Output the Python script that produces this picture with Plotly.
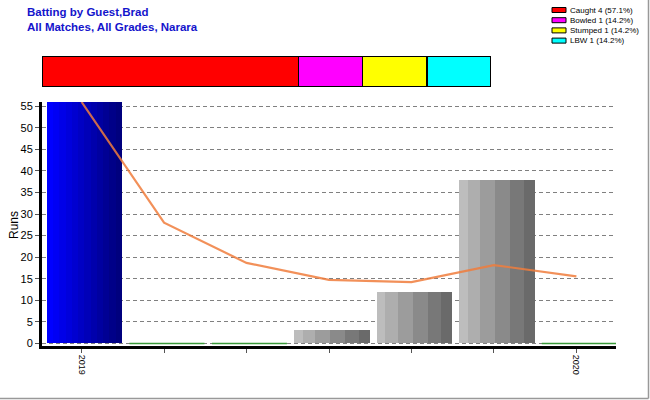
import plotly.graph_objects as go

# ---- data ----
categories = ["2019", "", "", "", "", "", "2020"]
runs = [56, 0, 0, 3, 12, 38, 0]
bar_style = ["blue", "none", "none", "gray", "gray", "gray", "none"]
average = [56, 28, 18.67, 14.75, 14.2, 18.17, 15.57]

dismissals = ["Caught", "Bowled", "Stumped", "LBW"]
dismissal_counts = [4, 1, 1, 1]
dismissal_pct = ["57.1%", "14.2%", "14.2%", "14.2%"]
dismissal_colors = ["#FF0000", "#FF00FF", "#FFFF00", "#00FFFF"]

title_lines = ["Batting by Guest,Brad", "All Matches, All Grades, Narara"]
y_title = "Runs"

# ---- layout constants ----
W, H = 650, 400
ML, MR, MT, MB = 42, 34, 50, 54
PW = W - ML - MR
PH = H - MT - MB
def px_x(p):
    return (p - ML) / PW
def px_y(p):
    return (H - MB - p) / PH

fig = go.Figure()

# gradient palettes
blue_strips = ["#0000FF", "#0000F4", "#0000E8", "#0000DC", "#0000D0", "#0000C4",
               "#0000B8", "#0000AC", "#0000A0", "#000094", "#000088", "#00007E"]
gray_strips = ["#BDBDBD", "#AEAEAE", "#9C9C9C", "#8A8A8A", "#787878", "#6A6A6A"]
gray_frac = [0, 25/225, 63/225, 108/225, 153/225, 193/225, 1.0]

bw = 0.91
shift = 0.035
xs = list(range(len(categories)))
for i, (v, st) in enumerate(zip(runs, bar_style)):
    if st == "blue":
        n = len(blue_strips)
        edges = [k / n for k in range(n + 1)]
        cols = blue_strips
    elif st == "gray":
        edges = gray_frac
        cols = gray_strips
    else:
        fig.add_trace(go.Scatter(x=[xs[i] - bw / 2 + shift, xs[i] + bw / 2 + shift], y=[v, v],
                                 mode="lines", line=dict(color="#3A9A3A", width=1.5),
                                 showlegend=False, hoverinfo="skip", xaxis="x", yaxis="y"))
        continue
    for k in range(len(cols)):
        w = (edges[k + 1] - edges[k]) * bw
        fig.add_trace(go.Bar(x=[xs[i]], y=[v], base=0, width=[w + 0.002],
                             offset=-bw / 2 + edges[k] * bw + shift,
                             marker=dict(color=cols[k], line=dict(width=0)),
                             showlegend=False, hoverinfo="skip", xaxis="x", yaxis="y"))

fig.add_trace(go.Scatter(x=xs, y=average, mode="lines",
                         line=dict(color="rgba(240,125,60,0.85)", width=2.2),
                         showlegend=False, hoverinfo="skip", xaxis="x", yaxis="y"))

# top stacked dismissal bar
for name, c, col in zip(dismissals, dismissal_counts, dismissal_colors):
    fig.add_trace(go.Bar(x=[c], y=[0], orientation="h", width=1,
                         marker=dict(color=col, line=dict(color="black", width=1.5)),
                         showlegend=False, hoverinfo="skip", xaxis="x2", yaxis="y2"))

fig.update_layout(
    width=W, height=H,
    margin=dict(l=ML, r=MR, t=MT, b=MB, autoexpand=False),
    paper_bgcolor="white", plot_bgcolor="white",
    barmode="stack",
    font=dict(family="Arial, Liberation Sans, sans-serif", color="black"),
    xaxis=dict(domain=[0, 1], range=[-0.48, 6.48], tickmode="array", tickvals=xs,
               ticktext=categories, tickangle=90, tickfont=dict(size=9),
               ticks="outside", ticklen=4, tickcolor="#555", showgrid=False,
               showline=True, linecolor="black", linewidth=3, zeroline=False,
               automargin=False, anchor="y"),
    yaxis=dict(domain=[0, px_y(102)], range=[-0.6, 56], tickmode="array",
               tickvals=list(range(0, 56, 5)), tickfont=dict(size=11),
               ticks="outside", ticklen=4, tickcolor="#555",
               showgrid=True, gridcolor="#808080", griddash="4px,3px", gridwidth=1,
               showline=True, linecolor="black", linewidth=3, zeroline=False,
               automargin=False, anchor="x"),
    xaxis2=dict(domain=[0, px_x(491)], range=[0, sum(dismissal_counts)], visible=False,
                anchor="y2", fixedrange=True),
    yaxis2=dict(domain=[px_y(87), px_y(56)], range=[-0.5, 0.5], visible=False,
                anchor="x2", fixedrange=True),
)

# y-axis title
fig.add_annotation(x=px_x(14), y=px_y(225), xref="paper", yref="paper",
                   xanchor="center", yanchor="middle", showarrow=False, textangle=-90,
                   text=y_title, font=dict(size=12, color="black"))

# title
fig.add_annotation(x=px_x(25), y=px_y(4), xref="paper", yref="paper",
                   xanchor="left", yanchor="top", align="left", showarrow=False,
                   text="<b>" + title_lines[0] + "<br>" + title_lines[1] + "</b>",
                   font=dict(size=11.5, color="#1414CC"))

# legend (swatches + labels)
for j, (name, c, pct, col) in enumerate(zip(dismissals, dismissal_counts, dismissal_pct, dismissal_colors)):
    ytop = 7.5 + j * 10.2
    fig.add_shape(type="rect", xref="paper", yref="paper",
                  x0=px_x(552), x1=px_x(566), y0=px_y(ytop), y1=px_y(ytop + 5),
                  fillcolor=col, line=dict(color="black", width=1))
    fig.add_annotation(x=px_x(568), y=px_y(ytop + 2.5), xref="paper", yref="paper",
                       xanchor="left", yanchor="middle", showarrow=False,
                       text=f"{name} {c} ({pct})", font=dict(size=8, color="black"))

# outer frame edges (right & bottom)
fig.add_shape(type="line", xref="paper", yref="paper", x0=px_x(648.5), x1=px_x(648.5),
              y0=px_y(0), y1=px_y(398.5), line=dict(color="#999", width=1.5))
fig.add_shape(type="line", xref="paper", yref="paper", x0=px_x(0), x1=px_x(648.5),
              y0=px_y(398.5), y1=px_y(398.5), line=dict(color="#999", width=1.5))

fig.write_html("out.html", config={"displayModeBar": False},
               post_script="document.body.style.margin='0';")
